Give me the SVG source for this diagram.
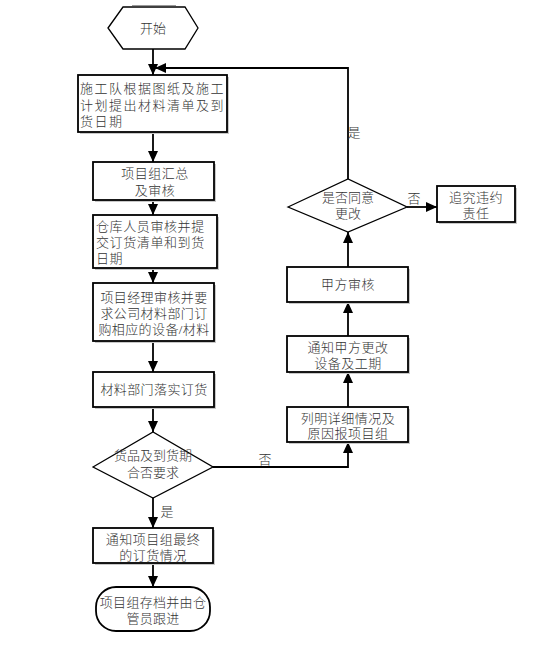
<svg xmlns="http://www.w3.org/2000/svg" width="555" height="662" viewBox="0 0 555 662">
<style>
.box{fill:#fff;stroke:#000;stroke-width:1.8}
.sh{fill:#c8c8c8;stroke:none}
.dia{fill:#fff;stroke:#000;stroke-width:1.3}
.ln{fill:none;stroke:#000;stroke-width:1.8}
text{font-family:"Liberation Serif","Noto Sans CJK SC",serif;font-size:13px;font-weight:300;fill:#333;dominant-baseline:central}
.c{text-anchor:middle}
</style>
<defs>
<marker id="ar" markerUnits="userSpaceOnUse" markerWidth="12" markerHeight="10" refX="11" refY="5" orient="auto">
<path d="M0,0 L11,5 L0,10 z" fill="#000"/>
</marker>
</defs>
<rect width="555" height="662" fill="#fff"/>
<g id="connectors">
<line class="ln" x1="153" y1="49" x2="153" y2="75" marker-end="url(#ar)"/>
<line class="ln" x1="153" y1="132" x2="153" y2="162" marker-end="url(#ar)"/>
<line class="ln" x1="153" y1="200" x2="153" y2="215" marker-end="url(#ar)"/>
<line class="ln" x1="153" y1="268" x2="153" y2="283" marker-end="url(#ar)"/>
<line class="ln" x1="153" y1="341" x2="153" y2="372" marker-end="url(#ar)"/>
<line class="ln" x1="153" y1="407" x2="153" y2="432" marker-end="url(#ar)"/>
<line class="ln" x1="153" y1="498" x2="153" y2="528" marker-end="url(#ar)"/>
<line class="ln" x1="153" y1="563" x2="153" y2="587" marker-end="url(#ar)"/>
<path class="ln" d="M213,467 H348 V442" marker-end="url(#ar)"/>
<line class="ln" x1="348" y1="407" x2="348" y2="372" marker-end="url(#ar)"/>
<line class="ln" x1="348" y1="336" x2="348" y2="302" marker-end="url(#ar)"/>
<line class="ln" x1="348" y1="267" x2="348" y2="232" marker-end="url(#ar)"/>
<path class="ln" d="M348,179 V68 H155" marker-end="url(#ar)"/>
<line class="ln" x1="407" y1="207" x2="437" y2="207" marker-end="url(#ar)"/>
<text class="c" x="167" y="511">是</text>
<text class="c" x="265" y="459">否</text>
<text class="c" x="354" y="132">是</text>
<text class="c" x="414" y="198">否</text>
</g>
<g id="start">
<line x1="132" y1="5.5" x2="176" y2="5.5" stroke="#999" stroke-width="1"/>
<polygon class="dia" points="108,28 123,7 185,7 198,28 185,49 123,49"/>
<text class="c" x="153" y="28">开始</text>
</g>
<g id="n1">
<rect class="sh" x="80" y="77" width="149" height="57"/>
<rect class="box" x="78" y="75" width="149" height="57"/>
<text x="80" y="88" letter-spacing="1.5">施工队根据图纸及施工</text>
<text x="80" y="105" letter-spacing="1.5">计划提出材料清单及到</text>
<text x="80" y="121" letter-spacing="1.5">货日期</text>
</g>
<g id="n2">
<rect class="sh" x="95" y="164" width="121" height="38"/>
<rect class="box" x="93" y="162" width="121" height="38"/>
<text class="c" x="155" y="173" letter-spacing="0.5">项目组汇总</text>
<text class="c" x="155" y="190" letter-spacing="0.5">及审核</text>
</g>
<g id="n3">
<rect class="sh" x="95" y="217" width="124" height="53"/>
<rect class="box" x="93" y="215" width="124" height="53"/>
<text x="96" y="226" letter-spacing="0.6">仓库人员审核并提</text>
<text x="96" y="242" letter-spacing="0.6">交订货清单和到货</text>
<text x="96" y="258" letter-spacing="0.6">日期</text>
</g>
<g id="n4">
<rect class="sh" x="95" y="285" width="121" height="58"/>
<rect class="box" x="93" y="283" width="121" height="58"/>
<text class="c" x="154" y="297" letter-spacing="0.4">项目经理审核并要</text>
<text class="c" x="154" y="313" letter-spacing="0.4">求公司材料部门订</text>
<text class="c" x="154" y="329" letter-spacing="0.4">购相应的设备/材料</text>
</g>
<g id="n5">
<rect class="sh" x="95" y="374" width="121" height="35"/>
<rect class="box" x="93" y="372" width="121" height="35"/>
<text class="c" x="154" y="389" letter-spacing="0.4">材料部门落实订货</text>
</g>
<g id="d1">
<polygon class="dia" points="93,467 153,432 213,467 153,498"/>
<text class="c" x="153" y="455">货品及到货期</text>
<text class="c" x="153" y="472">合否要求</text>
</g>
<g id="n6">
<rect class="sh" x="95" y="530" width="120" height="35"/>
<rect class="box" x="93" y="528" width="120" height="35"/>
<text class="c" x="153" y="539" letter-spacing="0.5">通知项目组最终</text>
<text class="c" x="153" y="555" letter-spacing="0.5">的订货情况</text>
</g>
<g id="end">
<rect class="box" x="96" y="587" width="114" height="44" rx="20" ry="20" stroke-width="1.5"/>
<text class="c" x="153" y="602" letter-spacing="0.3">项目组存档并由仓</text>
<text class="c" x="153" y="618" letter-spacing="0.3">管员跟进</text>
</g>
<g id="n7">
<rect class="sh" x="289" y="409" width="121" height="35"/>
<rect class="box" x="287" y="407" width="121" height="35"/>
<text class="c" x="348" y="418" letter-spacing="0.5">列明详细情况及</text>
<text class="c" x="348" y="433" letter-spacing="0.5">原因报项目组</text>
</g>
<g id="n8">
<rect class="sh" x="289" y="338" width="121" height="36"/>
<rect class="box" x="287" y="336" width="121" height="36"/>
<text class="c" x="348" y="347" letter-spacing="0.5">通知甲方更改</text>
<text class="c" x="348" y="363" letter-spacing="0.5">设备及工期</text>
</g>
<g id="n9">
<rect class="sh" x="289" y="269" width="121" height="35"/>
<rect class="box" x="287" y="267" width="121" height="35"/>
<text class="c" x="348" y="284" letter-spacing="0.5">甲方审核</text>
</g>
<g id="d2">
<polygon class="dia" points="288,207 348,179 407,207 348,232"/>
<text class="c" x="348" y="197">是否同意</text>
<text class="c" x="348" y="213">更改</text>
</g>
<g id="n10">
<rect class="sh" x="439" y="188" width="78" height="36"/>
<rect class="box" x="437" y="186" width="78" height="36"/>
<text class="c" x="476" y="197" letter-spacing="0.5">追究违约</text>
<text class="c" x="476" y="213" letter-spacing="0.5">责任</text>
</g>
</svg>
